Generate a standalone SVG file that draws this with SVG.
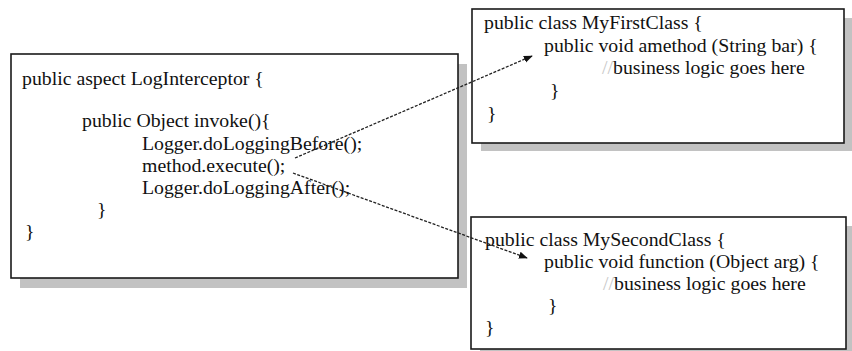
<svg xmlns="http://www.w3.org/2000/svg" width="852" height="351" viewBox="0 0 852 351">
  <defs>
    <style>
      .shadow { fill: #c2c2c2; }
      .box { fill: #ffffff; stroke: #1a1a1a; stroke-width: 1.6; }
      .code { font-family: "Liberation Serif", "Times New Roman", serif; font-size: 19.8px; fill: #111111; }
      .cmt { fill: #c8c8c8; }
      .conn { fill: none; stroke: #222222; stroke-width: 1.3; stroke-dasharray: 3 1.5; }
    </style>
    <marker id="arrow" viewBox="0 0 10 10" refX="9" refY="5" markerWidth="9" markerHeight="9" orient="auto" markerUnits="userSpaceOnUse">
      <path d="M0,1 L10,5 L0,9 Z" fill="#111111"/>
    </marker>
  </defs>

  <rect width="852" height="351" fill="#ffffff"/>

  <g id="logInterceptor">
    <rect class="shadow" x="20" y="64" width="447" height="224"/>
    <rect class="box" x="11" y="54" width="447" height="224"/>
    <text class="code" x="22" y="85">public aspect LogInterceptor {</text>
    <text class="code" x="82" y="127">public Object invoke(){</text>
    <text class="code" x="142" y="150">Logger.doLoggingBefore();</text>
    <text class="code" x="142" y="172">method.execute();</text>
    <text class="code" x="142" y="194">Logger.doLoggingAfter();</text>
    <text class="code" x="97" y="216">}</text>
    <text class="code" x="25" y="238">}</text>
  </g>

  <g id="myFirstClass">
    <rect class="shadow" x="481" y="18" width="371" height="133"/>
    <rect class="box" x="472" y="9" width="372" height="134"/>
    <text class="code" x="484" y="29">public class MyFirstClass {</text>
    <text class="code" x="544" y="52">public void amethod (String bar) {</text>
    <text class="code" x="602" y="74"><tspan class="cmt">//</tspan>business logic goes here</text>
    <text class="code" x="550" y="97">}</text>
    <text class="code" x="487" y="120">}</text>
  </g>

  <g id="mySecondClass">
    <rect class="shadow" x="480" y="226" width="372" height="130"/>
    <rect class="box" x="471" y="217" width="375" height="132"/>
    <text class="code" x="485" y="246">public class MySecondClass {</text>
    <text class="code" x="544" y="268">public void function (Object arg) {</text>
    <text class="code" x="603" y="290"><tspan class="cmt">//</tspan>business logic goes here</text>
    <text class="code" x="548" y="312">}</text>
    <text class="code" x="485" y="334">}</text>
  </g>

  <g id="connectors">
    <line class="conn" x1="295" y1="158" x2="532" y2="56" marker-end="url(#arrow)"/>
    <line class="conn" x1="293" y1="173" x2="527" y2="258" marker-end="url(#arrow)"/>
  </g>
</svg>
